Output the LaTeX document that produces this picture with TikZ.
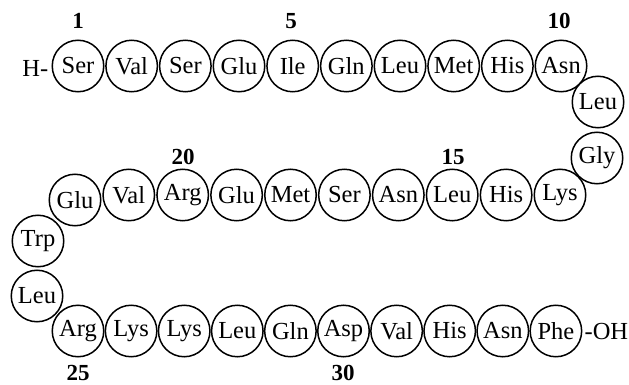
\documentclass[tikz,border=0pt]{standalone}
\usepackage{fontspec}
\setmainfont{Liberation Serif}
\usetikzlibrary{calc}
\begin{document}
\begin{tikzpicture}[x=1pt,y=-1pt,
  aa/.style={circle,draw,line width=1.5pt,minimum size=51.5pt,inner sep=0pt,font=\fontsize{24.5}{27}\selectfont},
  num/.style={inner sep=0pt,font=\fontsize{23}{26}\selectfont\bfseries},
  term/.style={inner sep=0pt,font=\fontsize{24.5}{27}\selectfont}]
\useasboundingbox (0,0) rectangle (629,385);
% row 1
\foreach \i/\t in {1/Ser,2/Val,3/Ser,4/Glu,5/Ile,6/Gln,7/Leu,8/Met,9/His,10/Asn}
  \node[aa] (a\i) at ({78+53.67*(\i-1)},66) {\t};
\node[aa] (a11) at (598,102) {Leu};
\node[aa] (a12) at (597,158) {Gly};
% row 2
\foreach \i/\t in {13/Lys,14/His,15/Leu,16/Asn,17/Ser,18/Met,19/Glu,20/Arg,21/Val}
  \node[aa] (a\i) at ({560-53.9*(\i-13)},195) {\t};
\node[aa] (a22) at (75,200) {Glu};
\node[aa] (a23) at (38,241) {Trp};
\node[aa] (a24) at (37,296) {Leu};
% row 3
\foreach \i/\t in {25/Arg,26/Lys,27/Lys,28/Leu,29/Gln,30/Asp,31/Val,32/His,33/Asn,34/Phe}
  \node[aa] (a\i) at ({78+53.1*(\i-25)},331) {\t};
% termini
\node[term,anchor=east] (hterm) at ($(a1.west)+(-3,2)$) {H-};
\node[term,anchor=west] (ohterm) at ($(a34.east)+(2,1)$) {-OH};
% numbers
\node[num] (n1) at (78,21) {1};
\node[num] (n5) at (291,21) {5};
\node[num] (n10) at (559,21) {10};
\node[num] (n15) at (453,157) {15};
\node[num] (n20) at (183,157) {20};
\node[num] (n25) at (78,373) {25};
\node[num] (n30) at (343,373) {30};
\end{tikzpicture}
\end{document}
